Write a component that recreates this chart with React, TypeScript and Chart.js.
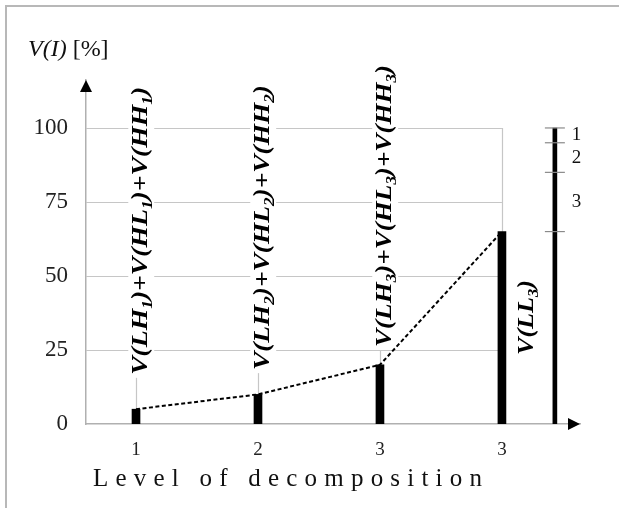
import { useEffect, useRef } from 'react';
import { Chart, registerables } from 'chart.js';

Chart.register(...registerables);

// ---------- data ----------
const levels = [1, 2, 3, 4];
const levelLabels = ['1', '2', '3', '3'];
const energyValues = [5, 10, 20, 65];
const yTickValues = [0, 25, 50, 75, 100];
const gridValues = [25, 50, 75, 100];
const cumulativeX = 4.434;
const cumulativeBounds = [65, 85, 95, 100];
const cumulativeLabels = ['3', '2', '1'];
const detailLevels = [1, 2, 3];
const llLevel = 3;

type Seg = [string, boolean];
const detailLabel = (n: number): Seg[] => [
  ['V(LH', false], [String(n), true], [')+V(HL', false], [String(n), true],
  [')+V(HH', false], [String(n), true], [')', false],
];
const llLabel = (n: number): Seg[] => [['V(LL', false], [String(n), true], [')', false]];

// annotation layout (value-space spans of the rotated labels)
const detailSpans: [number, number][] = [[16.6, 113.9], [18.2, 114.5], [26, 121.3]];
const llSpan: [number, number] = [23.3, 48.6];

const SERIF = '"Liberation Serif", "Times New Roman", serif';

function drawRotated(ctx: CanvasRenderingContext2D, segs: Seg[], baseX: number, y0: number, y1: number, size: number, bg: boolean) {
  const main = `italic bold ${size}px ${SERIF}`;
  const sub = `italic bold ${Math.round(size * 0.62)}px ${SERIF}`;
  let len = 0;
  const widths = segs.map(([t, s]) => {
    ctx.font = s ? sub : main;
    const w = ctx.measureText(t).width;
    len += w;
    return w;
  });
  const target = y0 - y1;
  ctx.save();
  ctx.translate(baseX, y0);
  ctx.rotate(-Math.PI / 2);
  if (bg) {
    ctx.fillStyle = '#ffffff';
    ctx.fillRect(-3, -size * 0.78, target + 6, size * 1.08);
  }
  ctx.scale(target / len, 1);
  ctx.fillStyle = '#000000';
  ctx.textBaseline = 'alphabetic';
  ctx.textAlign = 'left';
  let x = 0;
  segs.forEach(([t, s], i) => {
    ctx.font = s ? sub : main;
    ctx.fillText(t, x, s ? size * 0.22 : 0);
    x += widths[i];
  });
  ctx.restore();
}

const decorPlugin = {
  id: 'decor',
  beforeDatasetsDraw(chart: any) {
    const { ctx, scales } = chart;
    const xs = scales.x;
    const ys = scales.y;
    ctx.save();
    ctx.strokeStyle = '#c6c6c6';
    ctx.lineWidth = 1.2;
    const left = xs.getPixelForValue(xs.min);
    const right = xs.getPixelForValue(levels[levels.length - 1]);
    gridValues.forEach((v) => {
      const y = Math.round(ys.getPixelForValue(v)) + 0.5;
      ctx.beginPath();
      ctx.moveTo(left, y);
      ctx.lineTo(right, y);
      ctx.stroke();
    });
    levels.forEach((lv) => {
      const x = Math.round(xs.getPixelForValue(lv)) + 0.5;
      ctx.beginPath();
      ctx.moveTo(x, ys.getPixelForValue(0));
      ctx.lineTo(x, ys.getPixelForValue(100));
      ctx.stroke();
    });
    ctx.restore();

    detailLevels.forEach((lv, i) => {
      const bx = xs.getPixelForValue(lv) + 11;
      drawRotated(ctx, detailLabel(lv), bx, ys.getPixelForValue(detailSpans[i][0]), ys.getPixelForValue(detailSpans[i][1]), 24, true);
    });
    drawRotated(ctx, llLabel(llLevel), xs.getPixelForValue(levels[3]) + 31, ys.getPixelForValue(llSpan[0]), ys.getPixelForValue(llSpan[1]), 24, false);
  },
  afterDraw(chart: any) {
    const { ctx, scales, chartArea } = chart;
    const xs = scales.x;
    const ys = scales.y;
    ctx.save();
    // arrow heads
    ctx.fillStyle = '#000';
    const ax = chartArea.left;
    ctx.beginPath();
    ctx.moveTo(ax, chartArea.top);
    ctx.lineTo(ax - 6, chartArea.top + 12);
    ctx.lineTo(ax + 6, chartArea.top + 12);
    ctx.closePath();
    ctx.fill();
    const ay = chartArea.bottom;
    ctx.beginPath();
    ctx.moveTo(chartArea.right, ay);
    ctx.lineTo(chartArea.right - 12, ay - 6);
    ctx.lineTo(chartArea.right - 12, ay + 6);
    ctx.closePath();
    ctx.fill();

    // cumulative labels
    ctx.fillStyle = '#111';
    ctx.font = `19px ${SERIF}`;
    ctx.textBaseline = 'middle';
    ctx.textAlign = 'left';
    const lx = xs.getPixelForValue(cumulativeX) + 17;
    cumulativeLabels.forEach((t, i) => {
      const mid = (cumulativeBounds[i] + cumulativeBounds[i + 1]) / 2;
      ctx.fillText(t, lx, ys.getPixelForValue(mid));
    });

    // y title
    ctx.textBaseline = 'alphabetic';
    ctx.font = `italic 24px ${SERIF}`;
    ctx.fillText('V(I)', 28, 56);
    const w = ctx.measureText('V(I)').width;
    ctx.font = `24px ${SERIF}`;
    ctx.fillText(' [%]', 28 + w, 56);

    // x title with letter spacing
    const title = 'Level of decomposition';
    ctx.font = `25px ${SERIF}`;
    const chars = title.split('');
    const cw = chars.map((c) => ctx.measureText(c).width);
    const natural = cw.reduce((a, b) => a + b, 0);
    const x0 = 93;
    const x1 = 482;
    const sp = (x1 - x0 - natural) / (chars.length - 1);
    let cx = x0;
    chars.forEach((c, i) => {
      ctx.fillText(c, cx, 486);
      cx += cw[i] + sp;
    });
    ctx.restore();
  },
};

export default function App() {
  const ref = useRef<HTMLCanvasElement | null>(null);
  useEffect(() => {
    if (!ref.current) return;
    const chart = new Chart(ref.current, {
      type: 'bar',
      data: {
        datasets: [
          {
            type: 'line',
            data: levels.map((x, i) => ({ x, y: energyValues[i] })),
            borderColor: '#000',
            borderWidth: 2,
            borderDash: [4, 2.5],
            pointRadius: 0,
            fill: false,
            order: 0,
          } as any,
          {
            type: 'scatter',
            data: cumulativeBounds.map((y) => ({ x: cumulativeX, y })),
            pointStyle: 'line',
            pointRadius: 10,
            borderColor: '#8a8a8a',
            borderWidth: 1.2,
            order: 0,
          } as any,
          {
            type: 'bar',
            data: levels.map((x, i) => ({ x, y: energyValues[i] })),
            backgroundColor: '#000',
            barThickness: 8,
            grouped: false,
            order: 1,
          } as any,
          {
            type: 'bar',
            data: [{ x: cumulativeX, y: [0, cumulativeBounds[cumulativeBounds.length - 1]] }],
            backgroundColor: '#000',
            barThickness: 4,
            grouped: false,
            order: 1,
          } as any,
        ],
      },
      options: {
        animation: false,
        responsive: false,
        devicePixelRatio: 1,
        layout: { padding: { top: 80, right: 39, left: 0, bottom: 0 } },
        plugins: { legend: { display: false }, tooltip: { enabled: false } },
        scales: {
          x: {
            type: 'linear',
            min: 0.59,
            max: 4.64,
            offset: false,
            grid: { display: false, drawTicks: false },
            border: { display: true, color: '#b0b0b0', width: 1.5 },
            afterBuildTicks: (s: any) => { s.ticks = levels.map((v) => ({ value: v })); },
            afterFit: (s: any) => { s.height = 84; },
            ticks: {
              padding: 15,
              color: '#222',
              font: { family: SERIF, size: 19 },
              callback: (v: any) => levelLabels[levels.indexOf(Number(v))] ?? '',
            },
          },
          y: {
            type: 'linear',
            min: 0,
            max: 116.2,
            grid: { display: false, drawTicks: false },
            border: { display: true, color: '#b0b0b0', width: 1.5 },
            afterBuildTicks: (s: any) => { s.ticks = yTickValues.map((v) => ({ value: v })); },
            afterFit: (s: any) => { s.width = 86; },
            ticks: {
              padding: 18,
              color: '#222',
              font: { family: SERIF, size: 23 },
              callback: (v: any) => String(v),
            },
          },
        },
      } as any,
      plugins: [decorPlugin],
    });
    return () => chart.destroy();
  }, []);
  return (
    <div style={{ position: 'fixed', left: 0, top: 0, width: 619, height: 508, background: '#fff' }}>
      <canvas ref={ref} width={619} height={508} style={{ position: 'absolute', left: 0, top: 0 }} />
      <div style={{ position: 'absolute', left: 5, top: 5, right: 0, bottom: 0, borderLeft: '2px solid #b8b8b8', borderTop: '2px solid #b8b8b8', pointerEvents: 'none' }} />
    </div>
  );
}
